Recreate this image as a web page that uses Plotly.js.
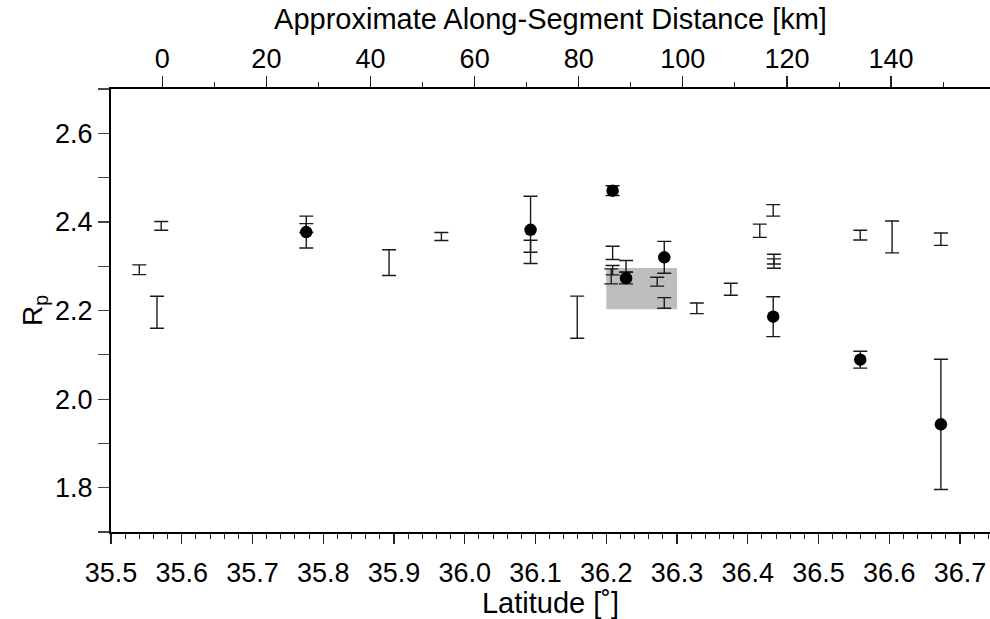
<!DOCTYPE html>
<html>
<head>
<meta charset="utf-8">
<script src="https://cdn.plot.ly/plotly-3.0.1.min.js"></script>
<style>
html,body{margin:0;padding:0;background:#fff;overflow:hidden;}
#chart{width:990px;height:619px;}
</style>
</head>
<body>
<div id="chart"></div>
<script>
// Measurements without a symbol (error bars only)
const openLat = [35.540, 35.565, 35.571, 35.776, 35.893, 35.967, 36.093, 36.159, 36.207, 36.209, 36.209, 36.228, 36.272, 36.282, 36.328, 36.376, 36.417, 36.436, 36.437, 36.437, 36.559, 36.604, 36.673];
const openR   = [2.292, 2.196, 2.391, 2.386, 2.308, 2.367, 2.345, 2.185, 2.277, 2.291, 2.330, 2.300, 2.265, 2.217, 2.205, 2.248, 2.380, 2.426, 2.316, 2.306, 2.370, 2.366, 2.361];
const openErr = [0.011, 0.036, 0.010, 0.010, 0.029, 0.009, 0.0135, 0.0475, 0.017, 0.0105, 0.015, 0.013, 0.010, 0.012, 0.012, 0.0135, 0.015, 0.013, 0.011, 0.0105, 0.011, 0.036, 0.014];

// Measurements drawn with filled circles
const filledLat = [35.776, 36.093, 36.209, 36.228, 36.282, 36.436, 36.559, 36.673];
const filledR   = [2.377, 2.382, 2.4705, 2.273, 2.320, 2.186, 2.089, 1.943];
const filledErr = [0.036, 0.076, 0.011, 0.013, 0.036, 0.045, 0.019, 0.147];

// Shaded reference box
const boxLat = [36.2, 36.3];
const boxR = [2.203, 2.296];

// Axis ranges
const latRange = [35.5, 36.7424];
const kmRange = [-9.85, 159.0];
const rRange = [1.7, 2.7];

const FONT = 'Liberation Sans, Arial, Helvetica, sans-serif';

const traces = [
  {
    x: openLat, y: openR, type: 'scatter', mode: 'markers',
    marker: {size: 1, color: 'rgba(0,0,0,0)'},
    error_y: {type: 'data', array: openErr, visible: true, color: '#1a1a1a', thickness: 1.4, width: 7},
    hoverinfo: 'skip', showlegend: false
  },
  {
    x: filledLat, y: filledR, type: 'scatter', mode: 'markers',
    marker: {size: 12.5, color: '#000'},
    error_y: {type: 'data', array: filledErr, visible: true, color: '#1a1a1a', thickness: 1.4, width: 7},
    hoverinfo: 'skip', showlegend: false
  },
  {
    x: [null], y: [null], xaxis: 'x2', yaxis: 'y', type: 'scatter', mode: 'markers',
    showlegend: false, hoverinfo: 'skip'
  }
];

const layout = {
  width: 990, height: 619,
  margin: {l: 111, r: 0, t: 89, b: 87, pad: 0},
  paper_bgcolor: '#fff', plot_bgcolor: '#fff',
  font: {family: FONT, size: 27, color: '#000'},
  showlegend: false,
  xaxis: {
    range: latRange, showgrid: false, zeroline: false,
    showline: true, linewidth: 2, linecolor: '#000',
    ticks: 'outside', ticklen: 10, tickwidth: 1.2, tickcolor: '#222',
    tick0: 35.5, dtick: 0.1, tickformat: '.1f',
    minor: {dtick: 0.02, ticks: 'outside', ticklen: 5, tickwidth: 1, tickcolor: '#222', showgrid: false},
    tickfont: {size: 27},
    ticklabelstandoff: 6,
    title: {text: 'Latitude [˚]', font: {size: 29}, standoff: 3}
  },
  xaxis2: {
    overlaying: 'x', side: 'top', anchor: 'y',
    range: kmRange, showgrid: false, zeroline: false,
    showline: true, linewidth: 2, linecolor: '#000',
    ticks: 'outside', ticklen: 11, tickwidth: 1.2, tickcolor: '#222',
    tick0: 0, dtick: 20,
    minor: {dtick: 10, ticks: 'outside', ticklen: 5, tickwidth: 1, tickcolor: '#222', showgrid: false},
    tickfont: {size: 27},
    ticklabelstandoff: -3,
    title: {text: 'Approximate Along-Segment Distance [km]', font: {size: 29}, standoff: 6}
  },
  yaxis: {
    range: rRange, showgrid: false, zeroline: false,
    showline: true, linewidth: 2, linecolor: '#000',
    ticks: 'outside', ticklen: 11, tickwidth: 1.2, tickcolor: '#444',
    tick0: 1.8, dtick: 0.2, tickformat: '.1f',
    minor: {dtick: 0.1, ticks: 'outside', ticklen: 11, tickwidth: 1.2, tickcolor: '#444', showgrid: false},
    tickfont: {size: 27},
    title: {text: 'R<sub>p</sub>', font: {size: 28}, standoff: 4}
  },
  shapes: [{
    type: 'rect', xref: 'x', yref: 'y',
    x0: boxLat[0], x1: boxLat[1], y0: boxR[0], y1: boxR[1],
    fillcolor: '#bebebe', line: {width: 0}, layer: 'below'
  }]
};

Plotly.newPlot('chart', traces, layout, {displayModeBar: false, staticPlot: true});
</script>
</body>
</html>
